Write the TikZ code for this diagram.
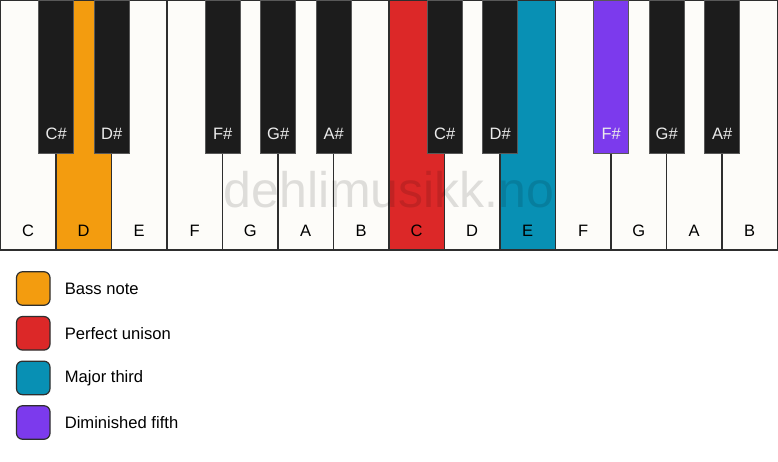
\documentclass[tikz,border=0pt]{standalone}
\usepackage{fontspec}
\setmainfont{Liberation Sans}
\usetikzlibrary{positioning}
\definecolor{keywhite}{HTML}{FDFCF9}
\definecolor{keyblack}{HTML}{1C1C1C}
\definecolor{keyline}{HTML}{2E2E2E}
\definecolor{bassorange}{HTML}{F39C0F}
\definecolor{unisonred}{HTML}{DC2828}
\definecolor{thirdteal}{HTML}{0890B4}
\definecolor{fifthpurple}{HTML}{7C3AED}
\tikzset{
  whitekey/.style={draw=keyline, line width=1.5pt, minimum width=55.5pt, minimum height=249.2pt, inner sep=0pt},
  blackkey/.style={draw=keyline!80, line width=1pt, fill=keyblack, minimum width=35pt, minimum height=152.5pt, inner sep=0pt},
  whitelabel/.style={font=\fontsize{16.5}{18}\selectfont, text=black},
  blacklabel/.style={font=\fontsize{16.5}{18}\selectfont, text=white!92!black},
  legendbox/.style={draw=keyline, line width=1.2pt, rounded corners=6pt, minimum size=33.5pt, inner sep=0pt},
  legendtext/.style={font=\fontsize{16.6}{18}\selectfont, anchor=west, inner sep=0pt}
}
\begin{document}
\begin{tikzpicture}[x=1pt,y=-1pt]
\useasboundingbox[fill=white] (0,0) rectangle (778,461);
% white keys
\foreach \n/\c [count=\i from 0] in {C/keywhite,D/bassorange,E/keywhite,F/keywhite,G/keywhite,A/keywhite,B/keywhite,C/unisonred,D/keywhite,E/thirdteal,F/keywhite,G/keywhite,A/keywhite,B/keywhite} {
  \node[whitekey, fill=\c] (w\i) at (55.5*\i+28.2,125.3) {};
  \node[whitelabel] (wl\i) at ([yshift=19.5pt]w\i.south) {\n};
}
% black keys
\foreach \n/\b/\c in {C\#/1/keyblack,D\#/2/keyblack,F\#/4/keyblack,G\#/5/keyblack,A\#/6/keyblack,C\#/8/keyblack,D\#/9/keyblack,F\#/11/fifthpurple,G\#/12/keyblack,A\#/13/keyblack} {
  \node[blackkey, fill=\c] (b\b) at (55.5*\b+0.7,76.75) {};
  \node[blacklabel] (bl\b) at ([yshift=20pt]b\b.south) {\n};
}
% watermark
\node[font=\fontsize{50}{52}\selectfont, text=black, text opacity=0.12, anchor=base] (mark) at (389,207) {dehlimusikk.no};
% legend
\node[legendbox, fill=bassorange] (bass) at (33.25,288.5) {};
\node[legendbox, fill=unisonred] (unison) at (33.25,333.3) {};
\node[legendbox, fill=thirdteal] (third) at (33.25,377.9) {};
\node[legendbox, fill=fifthpurple] (fifth) at (33.25,422.5) {};
\node[legendtext, right=14pt of bass] (bassl) {Bass note};
\node[legendtext, right=14pt of unison] (unisonl) {Perfect unison};
\node[legendtext, right=14pt of third] (thirdl) {Major third};
\node[legendtext, right=14pt of fifth] (fifthl) {Diminished fifth};
\end{tikzpicture}
\end{document}
